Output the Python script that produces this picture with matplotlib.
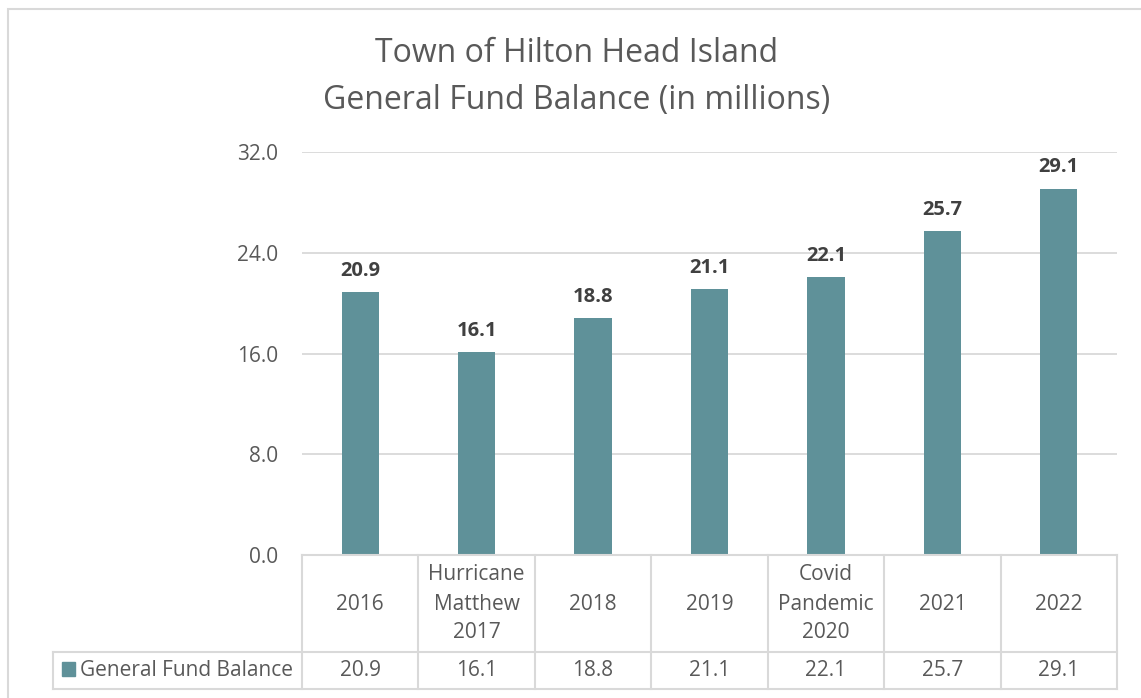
import matplotlib.pyplot as plt
from matplotlib.patches import Rectangle
from matplotlib.lines import Line2D
import matplotlib.transforms as mtransforms

# chart data
categories = ["2016", "Hurricane\nMatthew\n2017", "2018", "2019",
              "Covid\nPandemic\n2020", "2021", "2022"]
balance = [20.9, 16.1, 18.8, 21.1, 22.1, 25.7, 29.1]
series_name = "General Fund Balance"
yticks = [0, 8, 16, 24, 32]

BAR_COLOR = "#5F9199"
GRID = "#D9D9D9"
TEXT = "#595959"

plt.rcParams['font.family'] = ['Open Sans', 'DejaVu Sans']

W, H = 1141, 698
fig = plt.figure(figsize=(W / 100, H / 100), dpi=100)
fig.patch.set_facecolor("white")


def fx(px):
    return px / W


def fy(py):
    return 1 - py / H


ax = fig.add_axes([fx(302), fy(555), fx(1117) - fx(302), fy(152) - fy(555)])
x = range(len(categories))
ax.bar(x, balance, width=0.32, color=BAR_COLOR, zorder=3)
ax.set_xlim(-0.5, len(categories) - 0.5)
ax.set_ylim(0, 32)
ax.set_yticks(yticks)
ax.set_yticklabels([f"{v:.1f}" for v in yticks], fontsize=15, color=TEXT)
ax.tick_params(axis="y", length=0, pad=17)
ax.set_xticks([])
for s in ax.spines.values():
    s.set_visible(False)
ax.yaxis.grid(True, color=GRID, linewidth=1.3, zorder=0)
ax.set_axisbelow(True)

for xi, v in zip(x, balance):
    ax.annotate(f"{v:.1f}", (xi, v), xytext=(0, 8), textcoords="offset points",
                ha="center", va="bottom", fontsize=14.5, fontweight="bold",
                color="#404040")

# title
fig.text(fx(577), fy(54), "Town of Hilton Head Island", ha="center", va="center",
         fontsize=23, color=TEXT)
fig.text(fx(577), fy(101), "General Fund Balance (in millions)", ha="center",
         va="center", fontsize=23, color=TEXT)

# data table under the plot
tr = mtransforms.blended_transform_factory(ax.transData, fig.transFigure)
row_top, row_mid, row_bot = fy(555), fy(652), fy(689)
n = len(categories)
for i in range(n + 1):
    fig.add_artist(Line2D([i - 0.5, i - 0.5], [row_top, row_bot], transform=tr,
                          color=GRID, linewidth=1.5))
fig.add_artist(Line2D([fx(53), fx(1117)], [row_mid, row_mid], color=GRID, linewidth=1.5))
fig.add_artist(Line2D([fx(53), fx(1117)], [row_bot, row_bot], color=GRID, linewidth=1.5))
fig.add_artist(Line2D([fx(53), fx(53)], [row_mid, row_bot], color=GRID, linewidth=1.5))
fig.add_artist(Line2D([fx(302), fx(1117)], [row_top, row_top], color=GRID, linewidth=1.5))

for i, (c, v) in enumerate(zip(categories, balance)):
    fig.text(i, fy(604), c, transform=tr, ha="center", va="center",
             fontsize=15, color=TEXT, linespacing=1.5)
    fig.text(i, (row_mid + row_bot) / 2, f"{v:.1f}", transform=tr, ha="center",
             va="center", fontsize=15, color=TEXT)

fig.add_artist(Rectangle((fx(62), fy(676)), fx(13), fy(662) - fy(676),
                         transform=fig.transFigure, color=BAR_COLOR))
fig.text(fx(80), (row_mid + row_bot) / 2, series_name, ha="left", va="center",
         fontsize=15, color=TEXT)

# outer chart border
fig.add_artist(Rectangle((fx(8), -0.05), 1.1, fy(9) + 0.05, transform=fig.transFigure,
                         fill=False, edgecolor=GRID, linewidth=1.5))

fig.savefig("out.png", dpi=100)
